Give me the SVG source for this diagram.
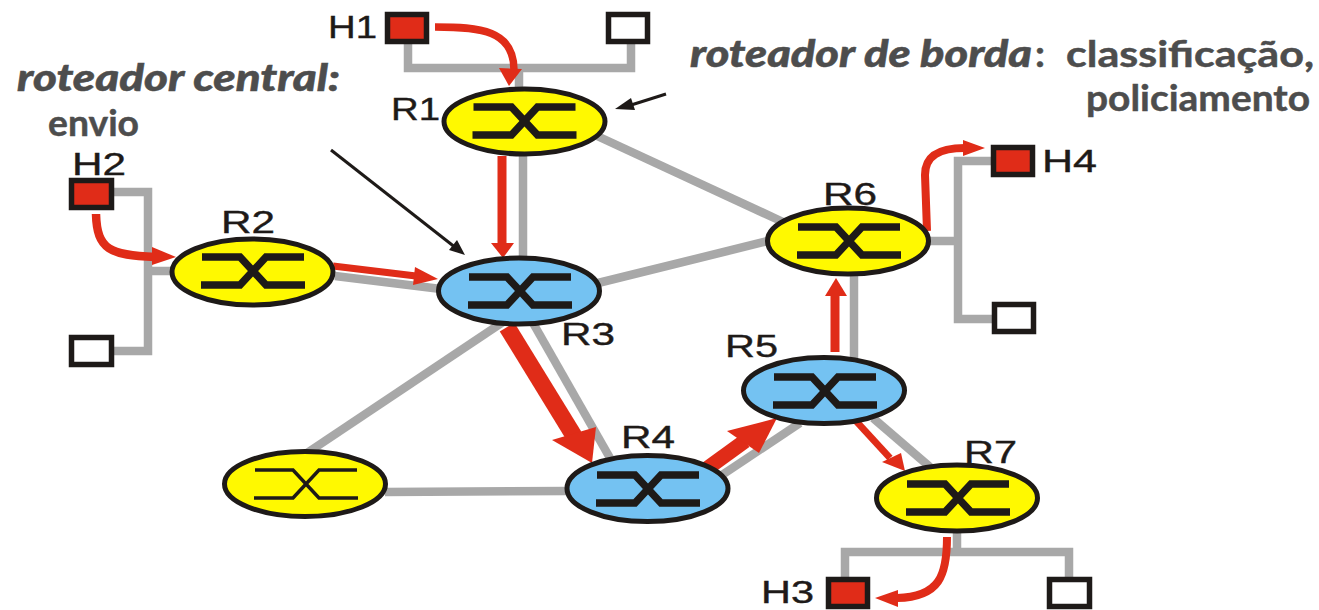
<svg xmlns="http://www.w3.org/2000/svg" width="1319" height="610" viewBox="0 0 1319 610">
<style>
.bg{fill:#fff}
.g{fill:none;stroke:#a8a8a8;stroke-width:8.5;stroke-linejoin:miter}
.r{fill:none;stroke:#e02c18}
.rf{fill:#e02c18}
.k{fill:none;stroke:#1e1a18;stroke-width:3}
.kf{fill:#1e1a18}
.y{fill:#fff900;stroke:#1e1a18;stroke-width:5}
.b{fill:#74c2f2;stroke:#1e1a18;stroke-width:5}
.x{fill:none;stroke:#1e1a18;stroke-width:7.5;stroke-linejoin:miter}
.xt{fill:none;stroke:#1e1a18;stroke-width:3.5}
.hr{fill:#e02c18;stroke:#1e1a18;stroke-width:5.5}
.hw{fill:#fff;stroke:#1e1a18;stroke-width:5.5}
.l{font-family:"Liberation Sans",Arial,sans-serif;font-size:32px;fill:#1e1a18;stroke:#1e1a18;stroke-width:.4}
.t{font-family:Lato,"Open Sans",sans-serif;font-size:37px;font-weight:700;fill:#4d4d4d;stroke:#4d4d4d;stroke-width:.5}
.i{font-style:italic;font-weight:900}
</style>
<defs>
<path id="xs" d="M-51,-14H-13L13,14H52M-52,14H-13L13,-14H51"/>
</defs>
<rect class="bg" width="1319" height="610"/>
<g id="connectors">
<path class="g" d="M408,44V68H631V44M519,68V90"/>
<path class="g" d="M523,154V260"/>
<path class="g" d="M595,135L783,222"/>
<path class="g" d="M598,283L768,241"/>
<path class="g" d="M335,276L441,289"/>
<path class="g" d="M113,192H148V351H113M148,271H172"/>
<path class="g" d="M503,322L307,453"/>
<path class="g" d="M533,323L610,458"/>
<path class="g" d="M385,492L568,491"/>
<path class="g" d="M722,475L800,423"/>
<path class="g" d="M854,273V358"/>
<path class="g" d="M873,418L930,467"/>
<path class="g" d="M992,161H958V319H992M958,241H930"/>
<path class="g" d="M957,531V552M845,577V552H1069V577"/>

<path class="k" d="M666,94L628,106"/>
<polygon class="kf" points="615,109 631,98 635,110"/>
<path class="k" d="M331,150L456,248"/>
<polygon class="kf" points="465,255 449,250 457,240"/>

<path class="r" stroke-width="7.5" d="M435,27C480,27 514,30 514,70"/>
<polygon class="rf" points="499,68 522,69 509,86"/>
<path class="r" stroke-width="9" d="M502,156V245"/>
<polygon class="rf" points="491,243 514,243 503,258"/>
<path class="r" stroke-width="8.5" d="M96,214C97,250 110,255 155,257"/>
<polygon class="rf" points="152,247 176,257 152,265"/>
<path class="r" stroke-width="7" d="M333,266L416,276"/>
<polygon class="rf" points="415,267 438,279 413,285"/>
<path class="r" stroke-width="17" d="M507,327L574,436"/>
<polygon class="rf" points="552,440 596,427 592,463"/>
<path class="r" stroke-width="15" d="M705,470L745,441"/>
<polygon class="rf" points="727,431 759,453 777,418"/>
<path class="r" stroke-width="9" d="M835,352V294"/>
<polygon class="rf" points="825,296 847,296 836,278"/>
<path class="r" stroke-width="7" d="M856,421L890,458"/>
<polygon class="rf" points="882,462 901,453 905,471"/>
<path class="r" stroke-width="8" d="M927,231L925,175C925,155 940,148 965,148"/>
<polygon class="rf" points="963,140 985,148 963,156"/>
<path class="r" stroke-width="8" d="M947,537C947,575 940,597 897,598"/>
<polygon class="rf" points="898,590 875,598 898,607"/>
</g>
<g id="R1"><ellipse class="y" cx="524.5" cy="121.5" rx="80.5" ry="32.5"/><use href="#xs" class="x" x="524.5" y="121"/><text class="l" x="391" y="120" textLength="49" lengthAdjust="spacingAndGlyphs">R1</text></g>
<g id="R2"><ellipse class="y" cx="252.5" cy="272" rx="80.5" ry="33"/><use href="#xs" class="x" x="253" y="271"/><text class="l" x="221" y="233" textLength="54" lengthAdjust="spacingAndGlyphs">R2</text></g>
<g id="R3"><ellipse class="b" cx="519" cy="291" rx="80.5" ry="33"/><use href="#xs" class="x" x="520" y="291"/><text class="l" x="561" y="345" textLength="54" lengthAdjust="spacingAndGlyphs">R3</text></g>
<g id="R4"><ellipse class="b" cx="647.5" cy="488.5" rx="80.5" ry="33"/><use href="#xs" class="x" x="648" y="489"/><text class="l" x="621" y="448" textLength="54" lengthAdjust="spacingAndGlyphs">R4</text></g>
<g id="R5"><ellipse class="b" cx="824" cy="390.5" rx="80.5" ry="33"/><use href="#xs" class="x" x="825" y="391"/><text class="l" x="725" y="357" textLength="53" lengthAdjust="spacingAndGlyphs">R5</text></g>
<g id="R6"><ellipse class="y" cx="848" cy="241" rx="80.5" ry="33"/><use href="#xs" class="x" x="849" y="241"/><text class="l" x="823" y="205" textLength="54" lengthAdjust="spacingAndGlyphs">R6</text></g>
<g id="R7"><ellipse class="y" cx="957" cy="498" rx="80.5" ry="33"/><use href="#xs" class="x" x="958" y="498"/><text class="l" x="964" y="463" textLength="53" lengthAdjust="spacingAndGlyphs">R7</text></g>
<g id="R0"><ellipse class="y" cx="305" cy="484" rx="80.5" ry="32.5"/><use href="#xs" class="xt" x="306" y="484"/></g>
<g id="H1"><rect class="hr" x="387.5" y="14.5" width="39" height="27"/><text class="l" x="328" y="38" textLength="49" lengthAdjust="spacingAndGlyphs">H1</text></g>
<g id="H1b"><rect class="hw" x="608.5" y="14.5" width="39" height="27"/></g>
<g id="H2"><rect class="hr" x="71.5" y="180.5" width="40" height="27"/><text class="l" x="72" y="175" textLength="54" lengthAdjust="spacingAndGlyphs">H2</text></g>
<g id="H2b"><rect class="hw" x="71.5" y="337.5" width="40" height="27"/></g>
<g id="H3"><rect class="hr" x="828.5" y="579.5" width="39" height="27"/><text class="l" style="font-size:31px" x="761" y="603" textLength="53" lengthAdjust="spacingAndGlyphs">H3</text></g>
<g id="H3b"><rect class="hw" x="1049.5" y="579.5" width="40" height="27"/></g>
<g id="H4"><rect class="hr" x="993.5" y="147.5" width="39" height="27"/><text class="l" x="1042" y="172" textLength="55" lengthAdjust="spacingAndGlyphs">H4</text></g>
<g id="H4b"><rect class="hw" x="994.5" y="304.5" width="39" height="27"/></g>
<g id="labels">
<text class="t i" x="17" y="91" textLength="323" lengthAdjust="spacingAndGlyphs">roteador central:</text>
<text class="t" x="48" y="136" textLength="91" lengthAdjust="spacingAndGlyphs">envio</text>
<text class="t i" x="690" y="67" textLength="342" lengthAdjust="spacingAndGlyphs">roteador de borda</text>
<text class="t" x="1035" y="67" textLength="10" lengthAdjust="spacingAndGlyphs">:</text>
<text class="t" x="1066" y="67" textLength="248" lengthAdjust="spacingAndGlyphs">classificação,</text>
<text class="t" x="1086" y="111" textLength="224" lengthAdjust="spacingAndGlyphs">policiamento</text>
</g>
</svg>
